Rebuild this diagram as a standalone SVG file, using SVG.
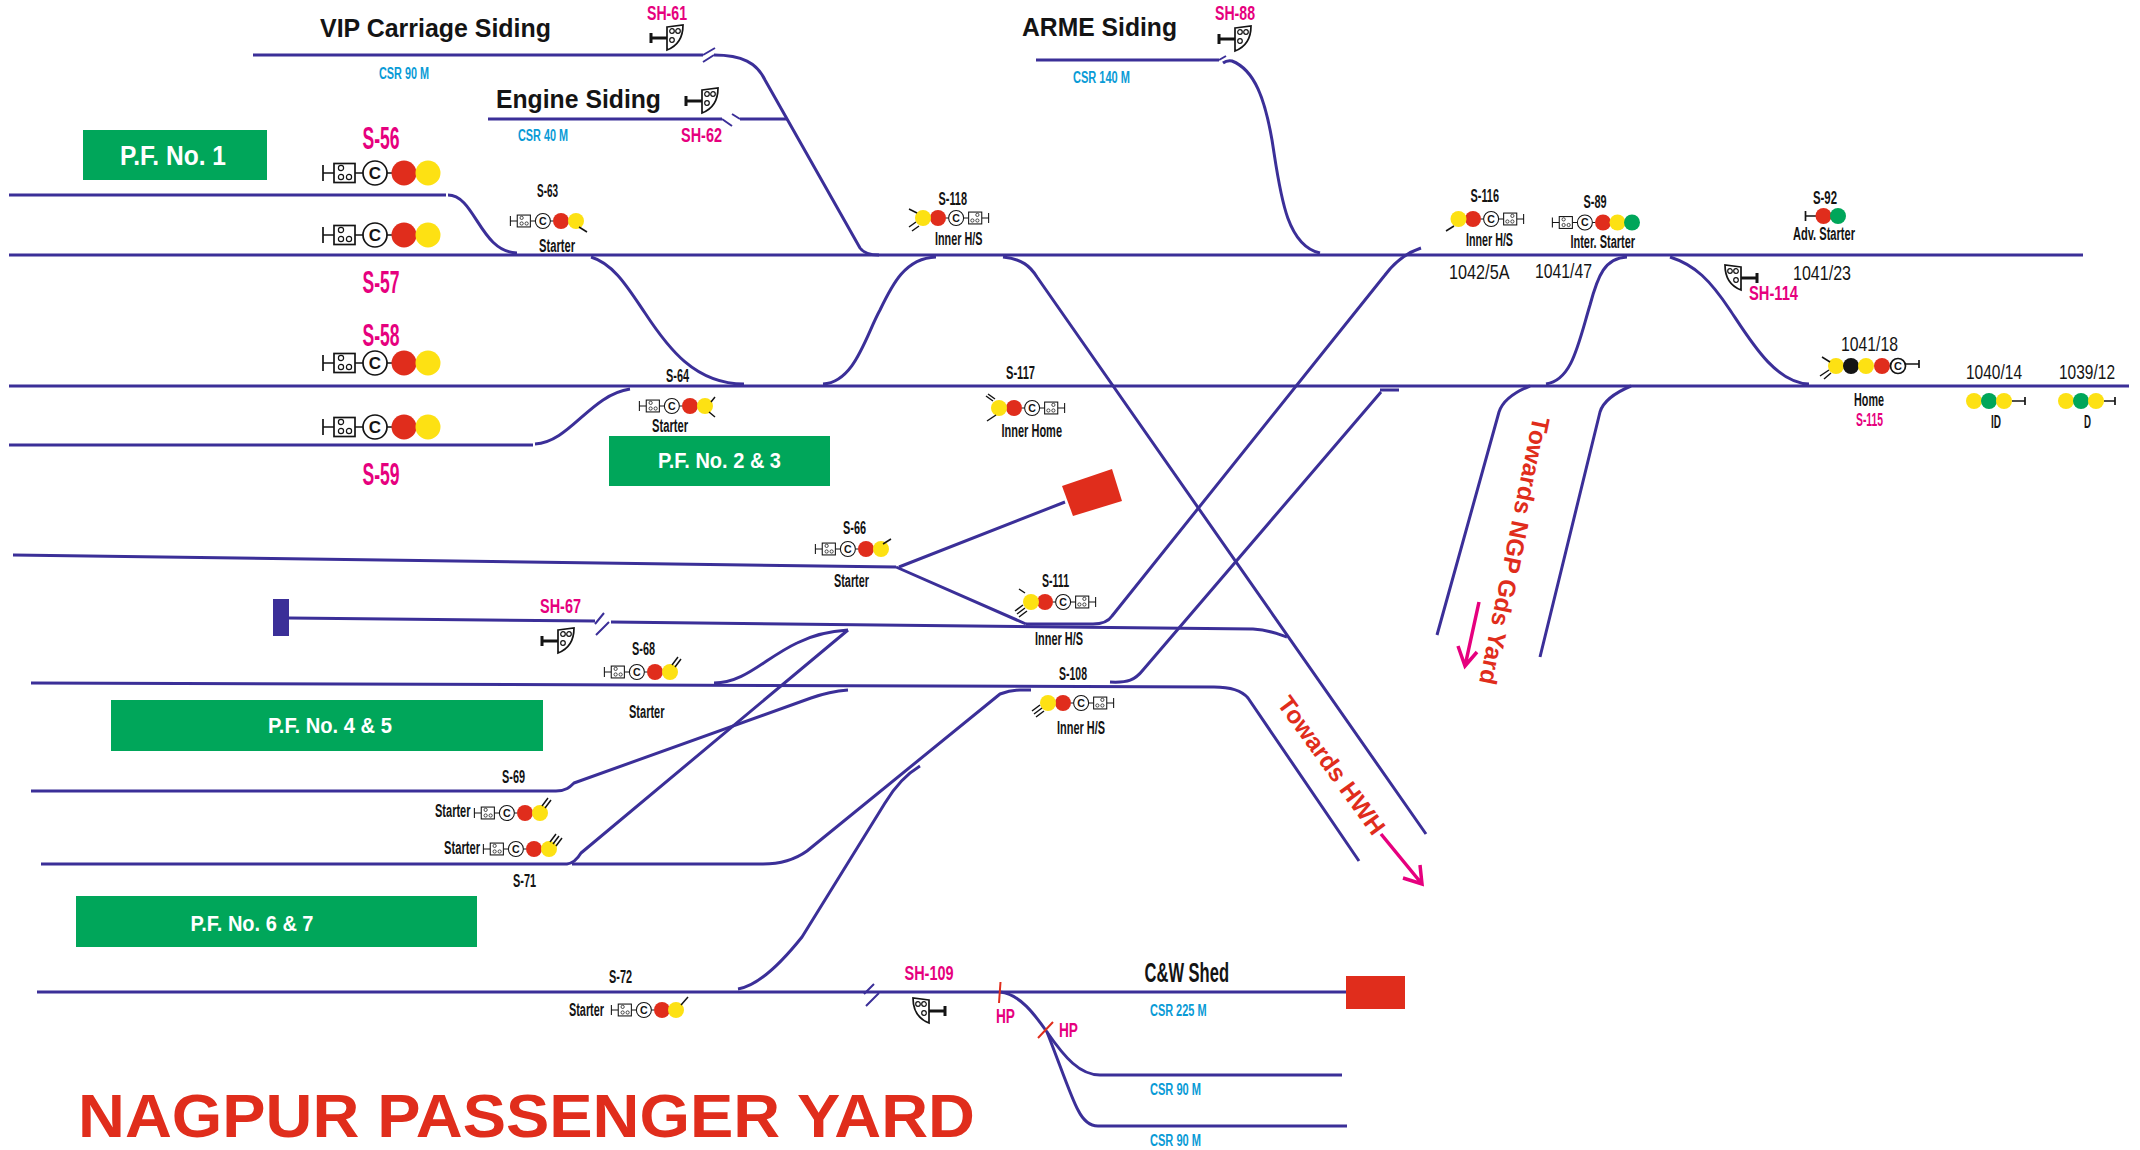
<svg xmlns="http://www.w3.org/2000/svg" width="2140" height="1150" viewBox="0 0 2140 1150">
<style>
text{font-family:"Liberation Sans",Arial,sans-serif;font-weight:700;fill:#141414}
.m{fill:#e6007e}.b{fill:#0a9bd6}.w{fill:#fff}.r{font-weight:400}.t{fill:#e02d1c}
.trk{fill:none;stroke:#3b2f98;stroke-width:3;stroke-linecap:butt;stroke-linejoin:round}
.thin{stroke-width:2}
.arw{fill:none;stroke:#e6007e;stroke-width:3.5}
.hp{fill:none;stroke:#e02d1c;stroke-width:2}
.pf{fill:#00a65a}.stop{fill:#e02d1c}
.R{fill:#e02d1c}.Y{fill:#fde113}.G{fill:#00a65a}.K{fill:#141414}
.l{stroke:#141414;fill:none;stroke-width:1.7}
.tk{stroke:#141414;fill:none;stroke-width:1.5}
.s{stroke:#141414;fill:#fff;stroke-width:1.7}
.h{stroke:#141414;fill:none;stroke-width:1.2}
.cc{font-size:17px;text-anchor:middle}
.bar{stroke:#141414;stroke-width:3;fill:none}
</style>
<defs>
<g id="bcL">
<path class="l" d="M-81 -8V8M-81 0H-70M-49 0H-41M-17 0H-12"/>
<rect class="s" x="-70" y="-9.5" width="21" height="19"/>
<circle class="h" cx="-63" cy="-5" r="2.6"/><circle class="h" cx="-63" cy="4" r="2.6"/><circle class="h" cx="-55" cy="4" r="2.6"/>
<circle class="s" cx="-29" cy="0" r="12"/>
<text class="cc" x="-29" y="6">C</text>
</g>
<g id="bcR">
<path class="l" d="M81 -8V8M81 0H70M49 0H41M17 0H12"/>
<rect class="s" x="49" y="-9.5" width="21" height="19"/>
<circle class="h" cx="63" cy="-5" r="2.6"/><circle class="h" cx="63" cy="4" r="2.6"/><circle class="h" cx="55" cy="4" r="2.6"/>
<circle class="s" cx="29" cy="0" r="12"/>
<text class="cc" x="29" y="6">C</text>
</g>
<g id="shunt">
<path class="bar" d="M-16 8V18M-16 13H0"/>
<path class="l" d="M0 2L16 0C16 10 13 20 0 25Z" style="fill:#fff"/>
<circle class="h" cx="5" cy="6" r="2.3"/><circle class="h" cx="11" cy="6" r="2.3"/><circle class="h" cx="5" cy="15" r="2.3"/>
</g>
</defs>
<rect width="2140" height="1150" fill="#fff"/>

<g id="connectors">
<path class="trk" d="M253 55H703"/>
<path class="trk thin" d="M703 55L715 48M703 62L714 55"/>
<path class="trk" d="M714 55C742 55 757 63 765 80L860 248Q865 255 879 255"/>
<path class="trk" d="M488 119H722"/>
<path class="trk thin" d="M722 119L732 126M732 114L740 119"/>
<path class="trk" d="M740 119H787"/>
<path class="trk" d="M1036 60H1219"/>
<path class="trk thin" d="M1219 60L1226 56"/>
<path class="trk" d="M1223 63Q1227 60 1232 61C1255 70 1265 100 1272 140C1280 190 1285 245 1320 253"/>
<path class="trk" d="M9 195H446M448 195C475 195 480 252 517 253"/>
<path class="trk" d="M9 255H2083"/>
<path class="trk" d="M9 386H2129"/>
<path class="trk" d="M9 445H533M535 444C570 442 590 395 630 389"/>
<path class="trk" d="M591 257C614 264 628 288 645 313C668 348 695 384 744 384"/>
<path class="trk" d="M823 384C855 382 866 335 880 310C892 285 905 258 936 257"/>
<path class="trk" d="M1003 257C1022 259 1030 266 1037 277L1426 834"/>
<path class="trk" d="M1026 624H1093C1102 624 1108 622 1112 616L1385 275Q1400 255 1421 248"/>
<path class="trk" d="M13 555L896 567M899 567L1065 502M896 567L1026 624"/>
<path class="trk" d="M289 618L595 621"/>
<path class="trk thin" d="M595 624L604 613M596 635L609 622"/>
<path class="trk" d="M611 622L1253 629C1270 630 1278 634 1287 637"/>
<path class="trk" d="M31 683L1214 687C1232 687 1243 692 1248 698L1359 861"/>
<path class="trk" d="M1110 682C1128 683 1135 680 1143 670L1381 392M1380 390H1399"/>
<path class="trk" d="M714 683C745 683 765 658 797 643C815 634 830 631 848 630"/>
<path class="trk" d="M41 864H567Q575 863 581 853L848 630"/>
<path class="trk" d="M572 864H763C785 864 800 856 807 851L1000 694Q1010 690 1020 690H1031"/>
<path class="trk" d="M31 791H556C566 791 570 787 574 783L811 698C825 693 835 691 848 690"/>
<path class="trk" d="M37 992H1346"/>
<path class="trk thin" d="M864 994L874 984M866 1006L879 993"/>
<path class="trk" d="M738 989C757 986 778 967 802 937L885 803Q900 778 920 766"/>
<path class="trk" d="M1000 992C1020 994 1035 1015 1047 1032C1065 1058 1080 1075 1100 1075H1342"/>
<path class="trk" d="M1047 1032C1060 1065 1072 1100 1078 1110C1083 1120 1090 1126 1098 1126H1347"/>
<path class="trk" d="M1530 386C1515 392 1503 400 1499 412L1437 635"/>
<path class="trk" d="M1631 386C1612 394 1603 402 1600 412L1540 657"/>
<path class="trk" d="M1546 384C1572 380 1578 345 1590 305C1598 275 1605 258 1627 257"/>
<path class="trk" d="M1670 257C1695 265 1710 280 1730 310C1750 340 1775 383 1809 384"/>
<path class="arw" d="M1381 834L1422 884M1403 878L1422 884L1420 865"/>
<path class="arw" d="M1479 602L1465 666M1458 646L1465 666L1477 652"/>
<path class="hp" d="M1000.5 982L999 1003M1053 1022L1038 1038"/>
</g>

<g id="pf-1"><rect class="pf" x="83" y="130" width="184" height="50"/><text class="w" x="120" y="165" font-size="27" textLength="106" lengthAdjust="spacingAndGlyphs">P.F. No. 1</text></g>
<g id="pf-23"><rect class="pf" x="609" y="436" width="221" height="50"/><text class="w" x="658" y="468" font-size="22" textLength="123" lengthAdjust="spacingAndGlyphs">P.F. No. 2 &amp; 3</text></g>
<g id="pf-45"><rect class="pf" x="111" y="700" width="432" height="51"/><text class="w" x="268" y="733" font-size="22" textLength="124" lengthAdjust="spacingAndGlyphs">P.F. No. 4 &amp; 5</text></g>
<g id="pf-67"><rect class="pf" x="76" y="896" width="401" height="51"/><text class="w" x="190.5" y="931" font-size="22" textLength="123" lengthAdjust="spacingAndGlyphs">P.F. No. 6 &amp; 7</text></g>

<g id="vip-siding"><text x="320" y="37" font-size="26" textLength="231" lengthAdjust="spacingAndGlyphs">VIP Carriage Siding</text><text class="b" x="379" y="79" font-size="16" textLength="50" lengthAdjust="spacingAndGlyphs">CSR 90 M</text></g>
<g id="engine-siding"><text x="496" y="108" font-size="26" textLength="165" lengthAdjust="spacingAndGlyphs">Engine Siding</text><text class="b" x="518" y="141" font-size="16" textLength="50" lengthAdjust="spacingAndGlyphs">CSR 40 M</text></g>
<g id="arme-siding"><text x="1022" y="36" font-size="26" textLength="155" lengthAdjust="spacingAndGlyphs">ARME Siding</text><text class="b" x="1073" y="83" font-size="16" textLength="57" lengthAdjust="spacingAndGlyphs">CSR 140 M</text></g>

<g id="S-56"><text class="m" x="362.5" y="149" font-size="32" textLength="37" lengthAdjust="spacingAndGlyphs">S-56</text><use href="#bcL" transform="translate(404,173)"/><circle class="R" cx="404" cy="173" r="12.5"/><circle class="Y" cx="428" cy="173" r="12.5"/></g>
<g id="S-57"><text class="m" x="362.5" y="293" font-size="32" textLength="37" lengthAdjust="spacingAndGlyphs">S-57</text><use href="#bcL" transform="translate(404,235)"/><circle class="R" cx="404" cy="235" r="12.5"/><circle class="Y" cx="428" cy="235" r="12.5"/></g>
<g id="S-58"><text class="m" x="362.5" y="346" font-size="32" textLength="37" lengthAdjust="spacingAndGlyphs">S-58</text><use href="#bcL" transform="translate(404,363)"/><circle class="R" cx="404" cy="363" r="12.5"/><circle class="Y" cx="428" cy="363" r="12.5"/></g>
<g id="S-59"><text class="m" x="362.5" y="485" font-size="32" textLength="37" lengthAdjust="spacingAndGlyphs">S-59</text><use href="#bcL" transform="translate(404,427)"/><circle class="R" cx="404" cy="427" r="12.5"/><circle class="Y" cx="428" cy="427" r="12.5"/></g>

<g id="S-63"><text x="537" y="197" font-size="19" textLength="21" lengthAdjust="spacingAndGlyphs">S-63</text><use href="#bcL" transform="translate(561,221) scale(.625)"/><circle class="R" cx="561" cy="221" r="8"/><circle class="Y" cx="576" cy="221" r="8"/><path class="tk" d="M579 227L587 232"/><text x="539" y="252" font-size="18" textLength="36" lengthAdjust="spacingAndGlyphs">Starter</text></g>
<g id="S-64"><text x="666" y="382" font-size="19" textLength="23" lengthAdjust="spacingAndGlyphs">S-64</text><use href="#bcL" transform="translate(690,406) scale(.625)"/><circle class="R" cx="690" cy="406" r="8"/><circle class="Y" cx="705" cy="406" r="8"/><path class="tk" d="M711 402L715 397M709 412L715 417"/><text x="652" y="432" font-size="18" textLength="36" lengthAdjust="spacingAndGlyphs">Starter</text></g>
<g id="S-118"><text x="938.5" y="205" font-size="19" textLength="28.5" lengthAdjust="spacingAndGlyphs">S-118</text><use href="#bcR" transform="translate(938,218) scale(.625)"/><circle class="R" cx="938" cy="218" r="8"/><circle class="Y" cx="923" cy="218" r="8"/><path class="tk" d="M917 213L909 209M916 222L909 227M919 226L912 231"/><text x="935" y="245" font-size="18" textLength="47.5" lengthAdjust="spacingAndGlyphs">Inner H/S</text></g>
<g id="S-117"><text x="1006" y="379" font-size="19" textLength="29" lengthAdjust="spacingAndGlyphs">S-117</text><use href="#bcR" transform="translate(1014,408) scale(.625)"/><circle class="R" cx="1014" cy="408" r="8"/><circle class="Y" cx="999" cy="408" r="8"/><path class="tk" d="M993 401L986 396M995 399L988 394M996 415L987 421"/><text x="1001.5" y="437" font-size="18" textLength="60.5" lengthAdjust="spacingAndGlyphs">Inner Home</text></g>
<g id="S-116"><text x="1470.5" y="202" font-size="19" textLength="28.5" lengthAdjust="spacingAndGlyphs">S-116</text><use href="#bcR" transform="translate(1473,219) scale(.625)"/><circle class="R" cx="1473" cy="219" r="8"/><circle class="Y" cx="1458.5" cy="219" r="8"/><path class="tk" d="M1454 226L1446 231"/><text x="1466" y="246" font-size="18" textLength="47" lengthAdjust="spacingAndGlyphs">Inner H/S</text><text class="r" x="1449" y="279" font-size="21" textLength="60.5" lengthAdjust="spacingAndGlyphs">1042/5A</text></g>
<g id="S-89"><text x="1583.5" y="208" font-size="19" textLength="23" lengthAdjust="spacingAndGlyphs">S-89</text><use href="#bcL" transform="translate(1603,222.5) scale(.625)"/><circle class="R" cx="1603" cy="222.5" r="8"/><circle class="Y" cx="1617.5" cy="222.5" r="8"/><circle class="G" cx="1632" cy="222.5" r="8"/><text x="1570.5" y="247.5" font-size="18" textLength="64.5" lengthAdjust="spacingAndGlyphs">Inter. Starter</text><text class="r" x="1535" y="278" font-size="21" textLength="57" lengthAdjust="spacingAndGlyphs">1041/47</text></g>
<g id="S-92"><text x="1813" y="203.5" font-size="19" textLength="24" lengthAdjust="spacingAndGlyphs">S-92</text><path class="l" d="M1805.5 211V221M1805.5 216H1817"/><circle class="R" cx="1823.5" cy="216" r="8"/><circle class="G" cx="1838" cy="216" r="8"/><text x="1793" y="240" font-size="18" textLength="62" lengthAdjust="spacingAndGlyphs">Adv. Starter</text><text class="r" x="1793" y="279.5" font-size="21" textLength="58" lengthAdjust="spacingAndGlyphs">1041/23</text></g>
<g id="S-115"><text class="r" x="1841" y="350.5" font-size="21" textLength="57" lengthAdjust="spacingAndGlyphs">1041/18</text><circle class="Y" cx="1836" cy="366" r="8"/><circle class="K" cx="1851" cy="366" r="8"/><circle class="Y" cx="1866" cy="366" r="8"/><circle class="R" cx="1882" cy="366" r="8"/><circle class="s" cx="1898" cy="366" r="7.5"/><text class="cc" x="1898" y="370" style="font-size:11px">C</text><path class="l" d="M1905.5 364H1919M1919 360V368"/><path class="tk" d="M1830 362L1822 357M1829 370L1820 376M1831 373L1824 379"/><text x="1854" y="406" font-size="18" textLength="30" lengthAdjust="spacingAndGlyphs">Home</text><text class="m" x="1856" y="426" font-size="18" textLength="27" lengthAdjust="spacingAndGlyphs">S-115</text></g>
<g id="signal-ID"><text class="r" x="1966" y="379" font-size="21" textLength="56" lengthAdjust="spacingAndGlyphs">1040/14</text><circle class="Y" cx="1974" cy="401" r="8"/><circle class="G" cx="1989" cy="401" r="8"/><circle class="Y" cx="2004" cy="401" r="8"/><path class="l" d="M2012 401H2025M2025 397V405"/><text x="1991" y="428" font-size="19" textLength="10" lengthAdjust="spacingAndGlyphs">ID</text></g>
<g id="signal-D"><text class="r" x="2059" y="379" font-size="21" textLength="56" lengthAdjust="spacingAndGlyphs">1039/12</text><circle class="Y" cx="2066" cy="401" r="8"/><circle class="G" cx="2081" cy="401" r="8"/><circle class="Y" cx="2096" cy="401" r="8"/><path class="l" d="M2104 401H2115M2115 397V405"/><text x="2084" y="428" font-size="19" textLength="7" lengthAdjust="spacingAndGlyphs">D</text></g>
<g id="S-66"><text x="843" y="534" font-size="19" textLength="23" lengthAdjust="spacingAndGlyphs">S-66</text><use href="#bcL" transform="translate(866,549) scale(.625)"/><circle class="R" cx="866" cy="549" r="8"/><circle class="Y" cx="881" cy="549" r="8"/><path class="tk" d="M883 544L891 539"/><text x="834" y="587" font-size="18" textLength="35" lengthAdjust="spacingAndGlyphs">Starter</text></g>
<g id="S-111"><text x="1042" y="587" font-size="19" textLength="27" lengthAdjust="spacingAndGlyphs">S-111</text><use href="#bcR" transform="translate(1045,602) scale(.625)"/><circle class="R" cx="1045" cy="602" r="8"/><circle class="Y" cx="1031" cy="602" r="8"/><path class="tk" d="M1025 593L1019 589M1023 605L1015 611M1025 608L1017 614M1027 611L1019 617"/><text x="1035" y="645" font-size="18" textLength="48" lengthAdjust="spacingAndGlyphs">Inner H/S</text></g>
<g id="S-108"><text x="1059" y="680" font-size="19" textLength="28" lengthAdjust="spacingAndGlyphs">S-108</text><use href="#bcR" transform="translate(1063,703) scale(.625)"/><circle class="R" cx="1063" cy="703" r="8"/><circle class="Y" cx="1048" cy="703" r="8"/><path class="tk" d="M1040 705L1032 711M1042 708L1034 714M1044 711L1036 717"/><text x="1057" y="734" font-size="18" textLength="48" lengthAdjust="spacingAndGlyphs">Inner H/S</text></g>
<g id="S-68"><text x="632" y="655" font-size="19" textLength="23" lengthAdjust="spacingAndGlyphs">S-68</text><use href="#bcL" transform="translate(655,672) scale(.625)"/><circle class="R" cx="655" cy="672" r="8"/><circle class="Y" cx="670" cy="672" r="8"/><path class="tk" d="M672 665L678 657M675 667L681 659"/><text x="629" y="718" font-size="18" textLength="35.5" lengthAdjust="spacingAndGlyphs">Starter</text></g>
<g id="S-69"><text x="502" y="783" font-size="19" textLength="23" lengthAdjust="spacingAndGlyphs">S-69</text><use href="#bcL" transform="translate(525,813) scale(.625)"/><circle class="R" cx="525" cy="813" r="8"/><circle class="Y" cx="540" cy="813" r="8"/><path class="tk" d="M542 806L548 798M545 808L551 800"/><text x="435" y="817" font-size="18" textLength="35.5" lengthAdjust="spacingAndGlyphs">Starter</text></g>
<g id="S-71"><text x="513" y="887" font-size="19" textLength="23" lengthAdjust="spacingAndGlyphs">S-71</text><use href="#bcL" transform="translate(534,849) scale(.625)"/><circle class="R" cx="534" cy="849" r="8"/><circle class="Y" cx="549" cy="849" r="8"/><path class="tk" d="M550 842L556 834M553 844L559 836M556 846L562 838"/><text x="444" y="854" font-size="18" textLength="36" lengthAdjust="spacingAndGlyphs">Starter</text></g>
<g id="S-72"><text x="609" y="983" font-size="19" textLength="23" lengthAdjust="spacingAndGlyphs">S-72</text><use href="#bcL" transform="translate(662,1010) scale(.625)"/><circle class="R" cx="662" cy="1010" r="8"/><circle class="Y" cx="676" cy="1010" r="8"/><path class="tk" d="M681 1005L688 997"/><text x="569" y="1016" font-size="18" textLength="35" lengthAdjust="spacingAndGlyphs">Starter</text></g>

<g id="SH-61"><text class="m" x="647" y="20" font-size="20" textLength="40" lengthAdjust="spacingAndGlyphs">SH-61</text><use href="#shunt" transform="translate(667,25)"/></g>
<g id="SH-62"><text class="m" x="681" y="142" font-size="20" textLength="41" lengthAdjust="spacingAndGlyphs">SH-62</text><use href="#shunt" transform="translate(702,88)"/></g>
<g id="SH-88"><text class="m" x="1215" y="20" font-size="20" textLength="40" lengthAdjust="spacingAndGlyphs">SH-88</text><use href="#shunt" transform="translate(1235,26)"/></g>
<g id="SH-67"><text class="m" x="540" y="613" font-size="20" textLength="41" lengthAdjust="spacingAndGlyphs">SH-67</text><use href="#shunt" transform="translate(558,628)"/></g>
<g id="SH-109"><text class="m" x="904.5" y="980" font-size="20" textLength="49" lengthAdjust="spacingAndGlyphs">SH-109</text><use href="#shunt" transform="translate(929,998) scale(-1,1)"/></g>
<g id="SH-114"><text class="m" x="1749" y="300" font-size="20" textLength="49" lengthAdjust="spacingAndGlyphs">SH-114</text><use href="#shunt" transform="translate(1741,265) scale(-1,1)"/></g>

<rect id="bumper" x="273" y="599" width="16" height="37" fill="#3b2f98"/>
<polygon id="stop-1" class="stop" points="1062,486 1112,469 1122,501 1073,516"/>
<g id="cw-shed"><rect class="stop" x="1346" y="976" width="59" height="33"/><text x="1144.5" y="981.5" font-size="27" textLength="84.5" lengthAdjust="spacingAndGlyphs">C&amp;W Shed</text><text class="b" x="1150" y="1015.5" font-size="16" textLength="56.5" lengthAdjust="spacingAndGlyphs">CSR 225 M</text></g>
<text class="b" x="1150" y="1094.5" font-size="16" textLength="51" lengthAdjust="spacingAndGlyphs">CSR 90 M</text>
<text class="b" x="1150" y="1146" font-size="16" textLength="51" lengthAdjust="spacingAndGlyphs">CSR 90 M</text>
<text class="m" x="996" y="1023" font-size="20" textLength="19" lengthAdjust="spacingAndGlyphs">HP</text>
<text class="m" x="1059" y="1037" font-size="20" textLength="19" lengthAdjust="spacingAndGlyphs">HP</text>
<text class="t" transform="translate(1332,765) rotate(54)" y="9" text-anchor="middle" font-size="24.5">Towards HWH</text>
<text class="t" transform="translate(1515,551) rotate(101.5)" y="9" text-anchor="middle" font-size="24.5">Towards NGP Gds Yard</text>
<text class="t" x="78" y="1137" font-size="62" textLength="897" lengthAdjust="spacingAndGlyphs">NAGPUR PASSENGER YARD</text>
</svg>
